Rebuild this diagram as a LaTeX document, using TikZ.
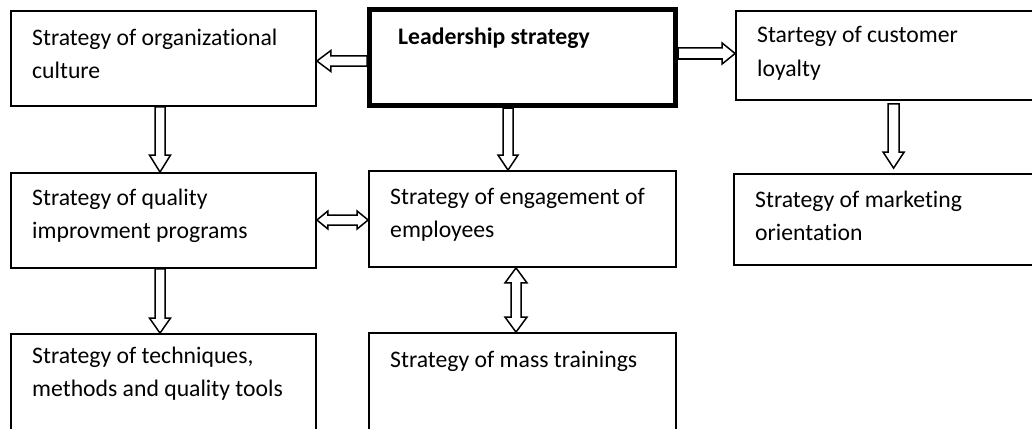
\documentclass[tikz,border=0pt]{standalone}
\usepackage{fontspec}
\setmainfont{Carlito}[Ligatures={NoCommon}]
\usetikzlibrary{calc}
\tikzset{
  box/.style={draw=black, line width=1.8pt, minimum width=#1, inner sep=0pt, anchor=center},
  lead/.style={draw=black, line width=5pt, inner sep=0pt, anchor=center},
  txt/.style={font=\fontsize{23.7}{33}\selectfont, align=left, inner sep=0pt, anchor=base west, text=black},
  blockarrow/.style={draw=black, fill=white, line width=1.5pt, line join=miter},
}
% single block arrow: start, tip, shaft half width, head half width, head length
\newcommand{\blkarrow}[5]{%
  \coordinate (bab) at ($(#2)!#5!(#1)$);
  \draw[blockarrow] ($(#1)!#3!90:(#2)$) -- ($(bab)!#3!-90:(#1)$) -- ($(bab)!#4!-90:(#1)$) -- (#2)
    -- ($(bab)!#4!90:(#1)$) -- ($(bab)!#3!90:(#1)$) -- ($(#1)!#3!-90:(#2)$) -- cycle;}
% double block arrow: end1, end2, shaft half width, head half width, head length
\newcommand{\dblkarrow}[5]{%
  \coordinate (bbo) at ($(#2)!#5!(#1)$);
  \coordinate (bbt) at ($(#1)!#5!(#2)$);
  \draw[blockarrow] (#1) -- ($(bbt)!#4!90:(#2)$) -- ($(bbt)!#3!90:(#2)$) -- ($(bbo)!#3!-90:(#1)$)
    -- ($(bbo)!#4!-90:(#1)$) -- (#2) -- ($(bbo)!#4!90:(#1)$) -- ($(bbo)!#3!90:(#1)$)
    -- ($(bbt)!#3!-90:(#2)$) -- ($(bbt)!#4!-90:(#2)$) -- cycle;}
\begin{document}
\begin{tikzpicture}[x=1pt,y=-1pt]
\useasboundingbox (0,0) rectangle (1032,428);
\clip (0,0) rectangle (1032,428);
% boxes
\node[box=305pt, minimum height=95pt] (A) at (163.5,58.5) {};
\node[lead, minimum width=306pt, minimum height=96pt] (L) at (522.5,57.5) {};
\node[box=309pt, minimum height=89pt] (C) at (890.5,55.5) {};
\node[box=305pt, minimum height=95pt] (D) at (163.5,220.5) {};
\node[box=307pt, minimum height=96pt] (E) at (522.5,219) {};
\node[box=311pt, minimum height=91pt] (F) at (889.5,219.5) {};
\node[box=305pt, minimum height=116pt] (G) at (163.5,392) {};
\node[box=307pt, minimum height=117pt] (H) at (522.5,391.5) {};
% texts (base anchor = baseline of the last line)
\node[txt] (tA) at (32,78) {Strategy of organizational\\culture};
\node[txt, font=\fontsize{23.7}{33}\selectfont\bfseries] (tL) at (398,45) {Leadership strategy};
\node[txt] (tC) at (757,76) {Startegy of customer\\loyalty};
\node[txt] (tD) at (32,238) {Strategy of quality\\improvment programs};
\node[txt] (tE) at (390,237) {Strategy of engagement of\\employees};
\node[txt] (tF) at (755,240) {Strategy of marketing\\orientation};
\node[txt] (tG) at (32,396) {Strategy of techniques,\\methods and quality tools};
\node[txt] (tH) at (390,367) {Strategy of mass trainings};
% connector end points
\coordinate (s1) at ($(L.west)+(0,3.5)$);   \coordinate (t1) at (A.east |- s1);
\coordinate (s2) at ($(L.east)+(0,-4)$);    \coordinate (t2) at (C.west |- s2);
\coordinate (s3) at ($(L.south)+(-14.5,0)$);\coordinate (t3) at (s3 |- E.north);
\coordinate (s4) at ($(A.south)+(-3.5,0)$); \coordinate (t4) at (s4 |- D.north);
\coordinate (s5) at ($(D.east)+(0,-0.5)$);  \coordinate (t5) at (E.west |- s5);
\coordinate (s6) at ($(E.south)+(-6.5,0)$); \coordinate (t6) at (s6 |- H.north);
\coordinate (s7) at ($(D.south)+(-3.5,0)$); \coordinate (t7) at (s7 |- G.north);
\coordinate (s8) at ($(C.south west)+(158.5,3)$); \coordinate (t8) at ($(s8 |- F.north)+(0,-5)$);
% connectors
\blkarrow{s1}{t1}{5pt}{10.5pt}{14pt}
\blkarrow{s2}{t2}{5.5pt}{10.5pt}{13pt}
\blkarrow{s3}{t3}{5pt}{10pt}{15pt}
\blkarrow{s4}{t4}{5pt}{10.5pt}{17pt}
\dblkarrow{s5}{t5}{5pt}{9pt}{11pt}
\dblkarrow{s6}{t6}{5pt}{11pt}{15pt}
\blkarrow{s7}{t7}{5pt}{10.5pt}{15pt}
\blkarrow{s8}{t8}{5.5pt}{10.5pt}{16pt}
\end{tikzpicture}
\end{document}
